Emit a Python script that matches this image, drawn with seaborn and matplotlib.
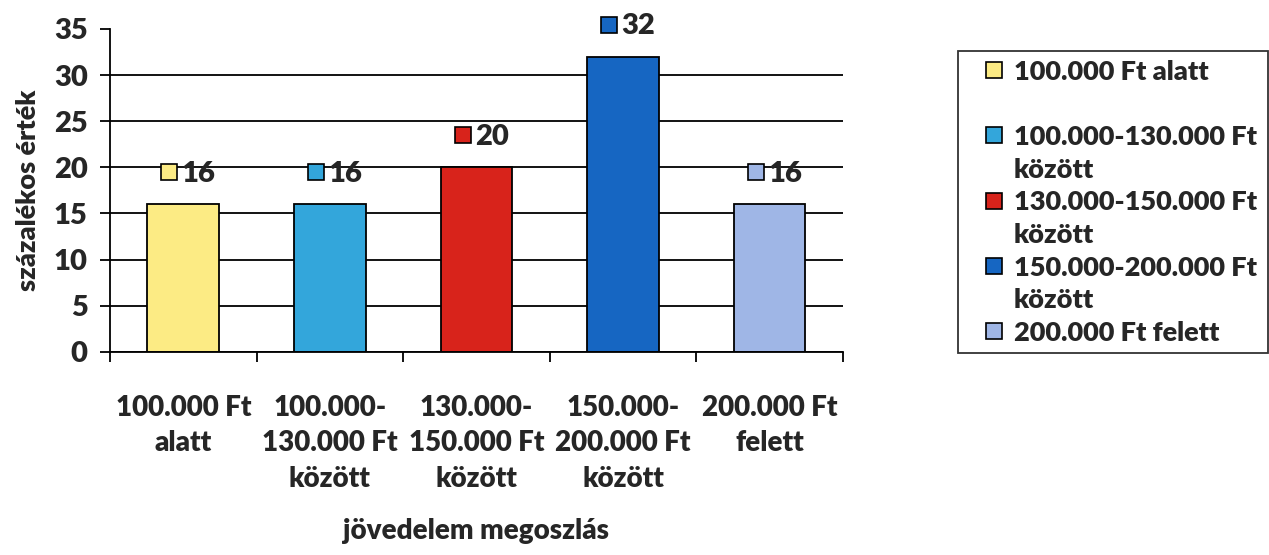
import matplotlib
matplotlib.use("Agg")
import matplotlib.pyplot as plt
import seaborn as sns
import pandas as pd
from matplotlib.lines import Line2D
from matplotlib.transforms import offset_copy

# adatok
categories = ["100.000 Ft\nalatt", "100.000-\n130.000 Ft\nközött", "130.000-\n150.000 Ft\nközött",
              "150.000-\n200.000 Ft\nközött", "200.000 Ft\nfelett"]
legend_labels = ["100.000 Ft alatt", "100.000-130.000 Ft\nközött", "130.000-150.000 Ft\nközött",
                 "150.000-200.000 Ft\nközött", "200.000 Ft felett"]
values = [16, 16, 20, 32, 16]
colors = ["#FCEB84", "#33A6DB", "#D8231B", "#1666C2", "#9FB6E6"]
y_ticks = [0, 5, 10, 15, 20, 25, 30, 35]

sns.set_theme(style="white")
plt.rcParams["font.family"] = ["Lato", "DejaVu Sans"]
plt.rcParams["font.weight"] = "heavy"

fig = plt.figure(figsize=(12.69, 5.55), dpi=100)
ax = fig.add_axes([0.0867, 0.366, 0.5775, 0.582])

df = pd.DataFrame({"kategoria": categories, "ertek": values})
sns.barplot(data=df, x="kategoria", y="ertek", hue="kategoria", palette=colors, legend=False,
            width=0.49, edgecolor="black", linewidth=1.3, saturation=1, ax=ax)

ax.set_xlim(-0.5, len(categories) - 0.5)
ax.set_ylim(y_ticks[0], y_ticks[-1])
ax.set_yticks(y_ticks)
ax.yaxis.grid(True, color="black", linewidth=1.3)
ax.set_axisbelow(True)
ax.get_ygridlines()[-1].set_visible(False)

ax.set_xticks([i + 0.5 for i in range(-1, len(categories))], minor=True)
ax.tick_params(axis="x", which="major", length=0, pad=31, labelsize=20)
ax.tick_params(axis="x", which="minor", bottom=True, length=7, width=1.3, color="black", direction="out")
ax.tick_params(axis="y", left=True, length=7, width=1.3, color="black", direction="out", pad=9, labelsize=21)
for t in ax.get_xticklabels():
    t.set_linespacing(1.45)

for side in ["top", "right"]:
    ax.spines[side].set_visible(False)
for side in ["left", "bottom"]:
    ax.spines[side].set_color("black")
    ax.spines[side].set_linewidth(1.3)

ax.set_xlabel("jövedelem megoszlás", fontsize=20, fontweight="heavy", labelpad=19)
ax.set_ylabel("százalékos érték", fontsize=19.5, fontweight="heavy", labelpad=10)

# adatfeliratok: kis szines negyzet + ertek
for i, v in enumerate(values):
    ax.plot(i, v, marker="s", ms=11, mfc=colors[i], mec="black", mew=1.2, clip_on=False,
            transform=offset_copy(ax.transData, fig=fig, x=-10, y=23, units="points"))
    ax.text(i, v, str(v), ha="left", va="center", fontsize=21, clip_on=False,
            transform=offset_copy(ax.transData, fig=fig, x=-1, y=22, units="points"))

# jelmagyarazat, az Excel elrendezeset kovetve
handles, labels = [], []
blank = Line2D([], [], linestyle="none", marker="none")
for i, lab in enumerate(legend_labels):
    parts = lab.split("\n")
    handles.append(Line2D([], [], linestyle="none", marker="s", ms=11, mfc=colors[i],
                          mec="black", mew=1.2))
    labels.append(parts[0])
    if len(parts) > 1:
        handles.append(blank)
        labels.append(parts[1])
    elif i == 0:
        handles.append(blank)
        labels.append(" ")

leg = fig.legend(handles, labels, loc="upper left",
                 bbox_to_anchor=(958 / 1269, 1 - 57 / 555, 310 / 1269, 0.01), mode="expand",
                 fontsize=19.5, labelspacing=0.32, handlelength=2.05, handletextpad=-0.3,
                 borderpad=0.3, borderaxespad=0, fancybox=False, frameon=True)
leg.get_frame().set_edgecolor("black")
leg.get_frame().set_linewidth(1.3)

fig.savefig("out.png", dpi=100)
